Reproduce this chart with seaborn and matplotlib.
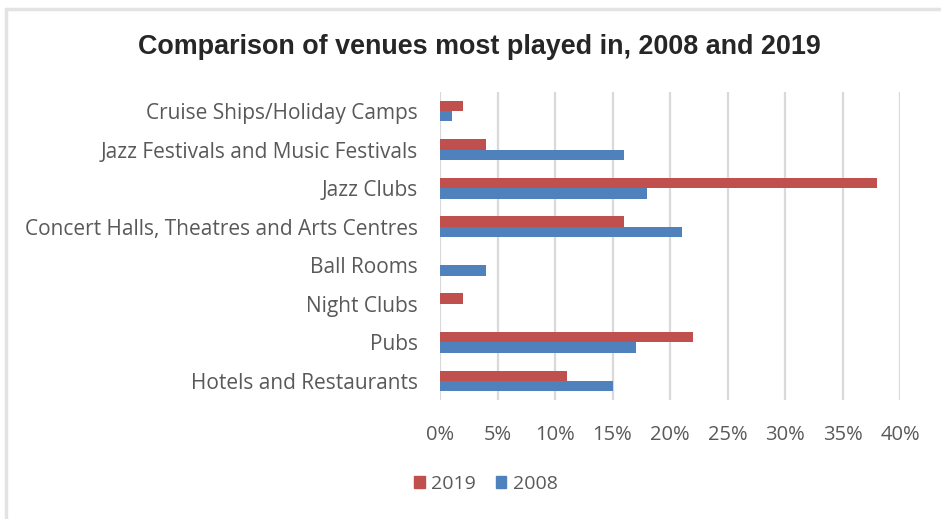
import matplotlib
matplotlib.use("Agg")
import matplotlib.pyplot as plt
import matplotlib.patches as mpatches
import seaborn as sns
import pandas as pd

venues = [
    "Cruise Ships/Holiday Camps",
    "Jazz Festivals and Music Festivals",
    "Jazz Clubs",
    "Concert Halls, Theatres and Arts Centres",
    "Ball Rooms",
    "Night Clubs",
    "Pubs",
    "Hotels and Restaurants",
]
share_2019 = [2, 4, 38, 16, 0, 2, 22, 11]
share_2008 = [1, 16, 18, 21, 4, 0, 17, 15]
years = ["2019", "2008"]
x_ticks = [0, 5, 10, 15, 20, 25, 30, 35, 40]
x_tick_labels = [f"{t}%" for t in x_ticks]
colors = {"2019": "#C0504D", "2008": "#4F81BD"}

df = pd.DataFrame({
    "venue": venues * 2,
    "share": share_2019 + share_2008,
    "year": ["2019"] * len(venues) + ["2008"] * len(venues),
})

sns.set_theme(style="white")
plt.rcParams["font.family"] = ["Open Sans", "DejaVu Sans"]
text_color = "#595959"

fig = plt.figure(figsize=(9.41, 5.19), dpi=100)
ax = fig.add_axes([440 / 941, 1 - 400.3 / 519, 460 / 941, (400.3 - 91.7) / 519])

sns.barplot(
    data=df, y="venue", x="share", hue="year", hue_order=years,
    order=venues, palette=colors, saturation=1, width=0.54, orient="h",
    edgecolor="none", linewidth=0, ax=ax, legend=False, zorder=3,
)

ax.set_xlim(0, 40)
ax.set_ylim(len(venues) - 0.5, -0.5)
ax.set_xticks(x_ticks)
ax.set_xticklabels(x_tick_labels)
ax.set_xlabel("")
ax.set_ylabel("")
for s in ax.spines.values():
    s.set_visible(False)
ax.grid(False)
for t in x_ticks:
    ax.axvline(t, color="#D9D9D9", linewidth=1.6, zorder=1)
ax.tick_params(axis="x", length=0, pad=18, labelsize=14.5, labelcolor=text_color)
ax.tick_params(axis="y", length=0, pad=16, labelsize=15, labelcolor=text_color)

fig.text(479 / 941, 1 - 46.5 / 519, "Comparison of venues most played in, 2008 and 2019",
         ha="center", va="center", fontsize=19.4, fontweight="bold",
         color="#262626", family=["Liberation Sans", "DejaVu Sans"])

handles = [mpatches.Patch(color=colors[y], label=y) for y in years]
fig.legend(handles=handles, loc="center", bbox_to_anchor=(486 / 941, 1 - 484 / 519),
           ncol=2, frameon=False, fontsize=14, labelcolor=text_color,
           handlelength=0.55, handleheight=0.55, handletextpad=0.35, columnspacing=1.0)

# light outer frame along the top and left edges
fig.add_artist(plt.Line2D([6 / 941, 1], [1 - 9 / 519, 1 - 9 / 519], color="#E3E3E3",
                          linewidth=2.5, transform=fig.transFigure))
fig.add_artist(plt.Line2D([6 / 941, 6 / 941], [0, 1 - 9 / 519], color="#E3E3E3",
                          linewidth=2.5, transform=fig.transFigure))

fig.savefig("out.png", dpi=100, facecolor="white")
